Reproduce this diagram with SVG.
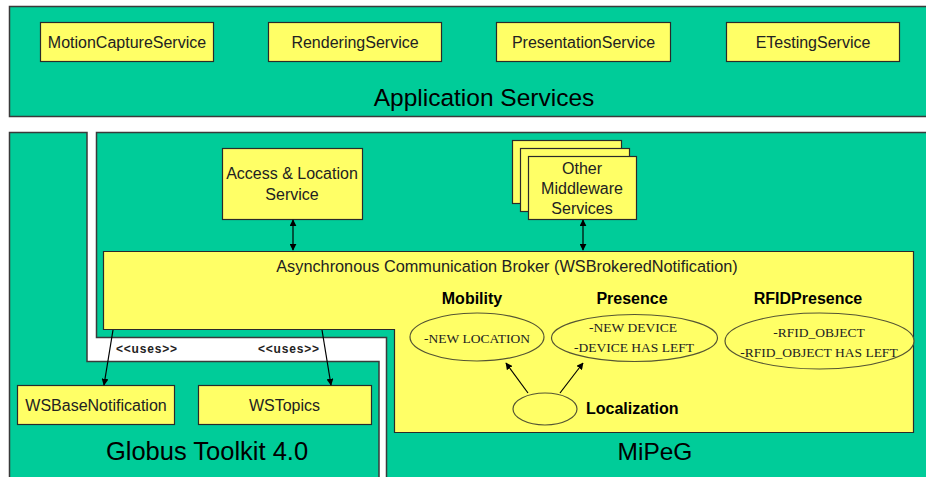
<svg xmlns="http://www.w3.org/2000/svg" width="926" height="477" viewBox="0 0 926 477">
<defs>
<style>
.grn{fill:#00CC99;stroke:#3a3a3a;stroke-width:1.5}
.yel{fill:#FFFF66;stroke:#2a2a2a;stroke-width:1.2}
.ell{fill:#FFFF66;stroke:#555533;stroke-width:1.2}
.t{font-family:"Liberation Sans",Arial,sans-serif;font-size:16px;fill:#222;text-anchor:middle}
.big{font-family:"Liberation Sans",Arial,sans-serif;font-size:24.5px;fill:#000;text-anchor:middle}
.b{font-family:"Liberation Sans",Arial,sans-serif;font-size:16px;font-weight:bold;fill:#000;text-anchor:middle}
.s{font-family:"Liberation Serif","Times New Roman",serif;font-size:13.5px;fill:#222;text-anchor:middle}
.u{font-family:"Liberation Sans",Arial,sans-serif;font-size:12px;font-weight:bold;fill:#222;letter-spacing:0.8px}
.ln{stroke:#000;stroke-width:1.2;fill:none}
</style>
<marker id="ah" viewBox="0 0 10 10" refX="9" refY="5" markerWidth="7" markerHeight="7" markerUnits="userSpaceOnUse" orient="auto-start-reverse">
<path d="M0,0 L10,5 L0,10 Z" fill="#000"/>
</marker>
</defs>

<g id="application-services">
<rect class="grn" x="9.5" y="6.5" width="930" height="110"/>
<text class="big" x="484" y="106">Application Services</text>
</g>
<g id="motion-capture-service">
<rect class="yel" x="40.5" y="22.5" width="173" height="39"/>
<text class="t" x="127" y="47.5">MotionCaptureService</text>
</g>
<g id="rendering-service">
<rect class="yel" x="268.5" y="22.5" width="173" height="39"/>
<text class="t" x="355" y="47.5">RenderingService</text>
</g>
<g id="presentation-service">
<rect class="yel" x="496.5" y="22.5" width="174" height="39"/>
<text class="t" x="583.5" y="47.5">PresentationService</text>
</g>
<g id="etesting-service">
<rect class="yel" x="726.5" y="22.5" width="173" height="39"/>
<text class="t" x="813" y="47.5">ETestingService</text>
</g>

<g id="globus-toolkit">
<path class="grn" d="M9.5,132.5 H87 V361.5 H379 V480 H9.5 Z"/>
<text class="big" x="207" y="460" style="font-size:25.5px">Globus Toolkit 4.0</text>
</g>
<g id="mipeg">
<path class="grn" d="M96.5,132.5 H935 V480 H386.5 V337.5 H96.5 Z"/>
<text class="big" x="655" y="460">MiPeG</text>
</g>

<g id="access-location-service">
<rect class="yel" x="222.5" y="148.5" width="140" height="71"/>
<text class="t" x="292" y="179">Access &amp; Location</text>
<text class="t" x="292" y="200">Service</text>
</g>
<g id="other-middleware-services">
<rect class="yel" x="512.5" y="140.5" width="109" height="63"/>
<rect class="yel" x="520.5" y="148.5" width="109" height="63"/>
<rect class="yel" x="528.5" y="156.5" width="108" height="63"/>
<text class="t" x="582" y="174">Other</text>
<text class="t" x="582" y="194">Middleware</text>
<text class="t" x="582" y="214">Services</text>
</g>

<g id="broker">
<path class="yel" d="M103.5,251.5 H913.5 V432.5 H394.5 V329.5 H103.5 Z"/>
<text class="t" x="507" y="272" style="font-size:16.3px">Asynchronous Communication Broker (WSBrokeredNotification)</text>
</g>

<g id="mobility">
<text class="b" x="472" y="304">Mobility</text>
<ellipse class="ell" cx="477" cy="337" rx="67" ry="24"/>
<text class="s" x="477" y="343">-NEW LOCATION</text>
</g>
<g id="presence">
<text class="b" x="632" y="304">Presence</text>
<ellipse class="ell" cx="634.5" cy="338" rx="83" ry="23.5"/>
<text class="s" x="633" y="332">-NEW DEVICE</text>
<text class="s" x="634" y="352">-DEVICE HAS LEFT</text>
</g>
<g id="rfid-presence">
<text class="b" x="808" y="304">RFIDPresence</text>
<ellipse class="ell" cx="819.5" cy="341" rx="94.5" ry="28"/>
<text class="s" x="819" y="337">-RFID_OBJECT</text>
<text class="s" x="819" y="357">-RFID_OBJECT HAS LEFT</text>
</g>
<g id="localization">
<ellipse class="ell" cx="545" cy="409" rx="32" ry="16"/>
<text class="b" x="586" y="414" style="text-anchor:start">Localization</text>
</g>

<g id="ws-base-notification">
<rect class="yel" x="17.5" y="385.5" width="157" height="39"/>
<text class="t" x="96" y="410.5">WSBaseNotification</text>
</g>
<g id="ws-topics">
<rect class="yel" x="198.5" y="385.5" width="173" height="39"/>
<text class="t" x="284.5" y="410.5">WSTopics</text>
</g>

<g id="connectors">
<line class="ln" x1="293" y1="220" x2="293" y2="250" marker-start="url(#ah)" marker-end="url(#ah)"/>
<line class="ln" x1="583" y1="220" x2="583" y2="250" marker-start="url(#ah)" marker-end="url(#ah)"/>
<line class="ln" x1="528" y1="393" x2="506" y2="363" marker-end="url(#ah)"/>
<line class="ln" x1="560" y1="393" x2="583" y2="363" marker-end="url(#ah)"/>
<line class="ln" x1="113" y1="330" x2="104" y2="385" marker-end="url(#ah)"/>
<line class="ln" x1="322" y1="330" x2="331" y2="385" marker-end="url(#ah)"/>
<text class="u" x="116" y="353">&lt;&lt;uses&gt;&gt;</text>
<text class="u" x="258" y="353">&lt;&lt;uses&gt;&gt;</text>
</g>
</svg>
